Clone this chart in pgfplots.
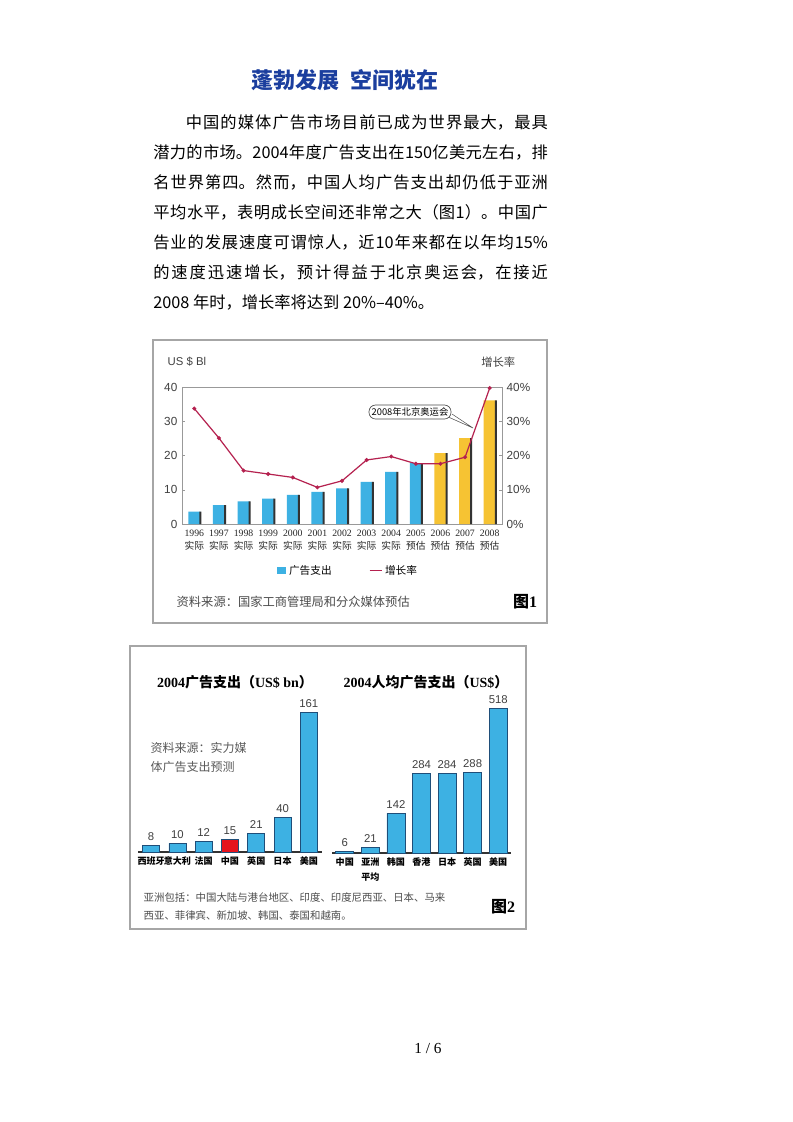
\documentclass[border=0pt]{standalone}
\usepackage{fontspec}
\setmainfont{Noto Sans CJK SC}
\newfontfamily\serif{Liberation Serif}
\newfontfamily\sans{Liberation Sans}
\usepackage{pgfplots}
\pgfplotsset{compat=1.18}
\definecolor{barblue}{HTML}{3DB1E3}
\definecolor{baryellow}{HTML}{F6C333}
\definecolor{linered}{HTML}{B5214F}
\definecolor{titleblue}{HTML}{1B3E9E}
\definecolor{redbar}{HTML}{E5131D}
\definecolor{edge}{HTML}{1F4E79}
\newcommand{\fs}[1]{\fontsize{#1}{#1}\selectfont}
\newcommand{\yl}[2]{{\serif #1}\\#2}
\begin{document}
\begin{tikzpicture}[x=0.75pt,y=-0.75pt]
\path[use as bounding box,fill=white] (0,0) rectangle (793,1122);

% heading and text
\node[text=titleblue,font=\bfseries\fs{16.5}] at (345,80) {蓬勃发展\hspace{0.5em}空间犹在};
\node[anchor=north west,inner sep=0pt,text width=296pt,align=justify,text=black,
      font=\fontsize{12.2}{22.5}\selectfont] at (153,114)
{\XeTeXlinebreaklocale "zh"\XeTeXlinebreakskip=0pt plus 3pt
\hspace*{2em}中国的媒体广告市场目前已成为世界最大，最具\linebreak
潜力的市场。2004年度广告支出在150亿美元左右，排\linebreak
名世界第四。然而，中国人均广告支出却仍低于亚洲\linebreak
平均水平，表明成长空间还非常之大（图1）。中国广\linebreak
告业的发展速度可谓惊人，近10年来都在以年均15\%\linebreak
的速度迅速增长，预计得益于北京奥运会，在接近\linebreak
2008 年时，增长率将达到 20\%–40\%。};

% figure 1
\draw[gray!70,line width=1.2pt] (153,340) rectangle (547,623);
\node[anchor=west,font=\sans\fs{8.5},text=black!75] at (163,362) {US \$ Bl};
\node[anchor=east,font=\fs{8.5},text=black!75] at (520,362) {增长率};

\begin{axis}[
  at={(136.5pt,-393pt)}, anchor=south west,
  scale only axis, width=240pt, height=102.75pt,
  xmin=-0.5, xmax=12.5, ymin=0, ymax=40,
  ytick={0,10,...,40}, ytick pos=left,
  xtick={0,...,12},
  xticklabels={\yl{1996}{实际},\yl{1997}{实际},\yl{1998}{实际},\yl{1999}{实际},
    \yl{2000}{实际},\yl{2001}{实际},\yl{2002}{实际},\yl{2003}{实际},\yl{2004}{实际},
    \yl{2005}{预估},\yl{2006}{预估},\yl{2007}{预估},\yl{2008}{预估}},
  x tick label style={font=\fontsize{7.3}{9.8}\selectfont,align=center,text=black!85,
    inner sep=1pt,yshift=-3pt},
  xtick style={draw=none},
  y tick label style={font=\sans\fs{8.8},text=black!75},
  /pgf/number format/assume math mode=true,
  axis line style={gray!80,line width=0.6pt},
  major tick length=2.5pt, ytick style={gray!80},
  legend style={at={(0.52,-0.34)},anchor=center,draw=none,fill=none,
    legend columns=2,font=\fs{8},
    /tikz/every even column/.append style={column sep=26pt}},
]
\addplot[ybar,bar width=9pt,bar shift=0pt,fill=barblue,draw=none,
  legend image code/.code={\fill[barblue] (0pt,-2.5pt) rectangle (7pt,2.5pt);}]
  coordinates {(0,3.6) (1,5.5) (2,6.6) (3,7.4) (4,8.5) (5,9.4) (6,10.4) (7,12.3) (8,15.2) (9,17.8)};
\addlegendentry{广告支出}
\addplot[ybar,bar width=9pt,bar shift=0pt,fill=baryellow,draw=none,forget plot]
  coordinates {(10,20.7) (11,25.1) (12,36.1)};
\addplot[ybar,bar width=1.5pt,bar shift=4.6pt,fill=black!80,draw=none,forget plot]
  coordinates {(0,3.6) (1,5.5) (2,6.6) (3,7.4) (4,8.5) (5,9.4) (6,10.4) (7,12.3) (8,15.2) (9,17.8) (10,20.7) (11,25.1) (12,36.1)};
\addlegendimage{color=linered,line width=0.9pt,
  legend image code/.code={\draw[linered,line width=1pt] (0pt,0pt) -- (9pt,0pt);}}
\addlegendentry{增长率}
\end{axis}

\begin{axis}[
  at={(136.5pt,-393pt)}, anchor=south west,
  scale only axis, width=240pt, height=102.75pt,
  xmin=-0.5, xmax=12.5, ymin=0, ymax=40,
  axis y line*=right, axis x line=none,
  ytick={0,10,...,40},
  yticklabel={\pgfmathprintnumber{\tick}\%},
  y tick label style={font=\sans\fs{8.8},text=black!75},
  /pgf/number format/assume math mode=true,
  axis line style={gray!80,line width=0.6pt},
  major tick length=2.5pt, ytick style={gray!80},
]
\addplot[color=linered,line width=0.9pt,mark=*,mark size=1pt]
  coordinates {(0,33.7) (1,25.1) (2,15.6) (3,14.6) (4,13.6) (5,10.7) (6,12.6)
    (7,18.7) (8,19.7) (9,17.6) (10,17.6) (11,19.5) (12,39.7)};
\end{axis}

\draw[black!70,line width=0.4pt,fill=white] (446,416) -- (473,428) -- (452,414);
\node[draw=black!70,rounded corners=5pt,fill=white,inner sep=2pt,font=\fs{7},line width=0.5pt]
  at (410,412) {2008年北京奥运会};

\node[anchor=west,font=\fs{9.2},text=black!70] at (172,602) {资料来源：国家工商管理局和分众媒体预估};
\node[font=\bfseries\fs{12}] at (525,602) {图{\serif\bfseries 1}};

% figure 2
\draw[gray!70,line width=1.2pt] (130,646) rectangle (526,929);
\node[font=\bfseries\fs{10.5}] at (235,682) {{\serif\bfseries 2004}广告支出（{\serif\bfseries US\$ bn}）};
\node[font=\bfseries\fs{10.5}] at (426,682) {{\serif\bfseries 2004}人均广告支出（{\serif\bfseries US\$}）};
\node[anchor=west,font=\fs{9},text=black!65] at (146,748) {资料来源：实力媒};
\node[anchor=west,font=\fs{9},text=black!65] at (146,767) {体广告支出预测};

\begin{axis}[
  at={(103.5pt,-639pt)}, anchor=south west,
  scale only axis, width=138pt, height=112.5pt,
  xmin=-0.5, xmax=6.5, ymin=0, ymax=172.5,
  axis y line=none, axis x line*=bottom,
  x axis line style={-,black!80,line width=0.8pt},
  xtick={0,...,6},
  xticklabels={西班牙,意大利,法国,中国,英国,日本,美国},
  xtick style={draw=none},
  x tick label style={font=\bfseries\fs{6.8}},
  nodes near coords,
  nodes near coords style={font=\sans\fs{8.5},text=black!75},
  /pgf/number format/assume math mode=true,
]
\addplot[ybar,bar width=12.75pt,bar shift=0pt,fill=barblue,draw=edge,line width=0.6pt]
  coordinates {(0,8) (1,10) (2,12) (4,21) (5,40) (6,161)};
\addplot[ybar,bar width=12.75pt,bar shift=0pt,fill=redbar,draw=edge,line width=0.6pt]
  coordinates {(3,15)};
\end{axis}

\begin{axis}[
  at={(249pt,-639.75pt)}, anchor=south west,
  scale only axis, width=134.25pt, height=112.5pt,
  xmin=-0.5, xmax=6.5, ymin=0, ymax=536,
  axis y line=none, axis x line*=bottom,
  x axis line style={-,black!80,line width=0.8pt},
  xtick={0,...,6},
  xticklabels={中国,{亚洲\\平均},韩国,香港,日本,英国,美国},
  xtick style={draw=none},
  x tick label style={font=\bfseries\fontsize{6.8}{11}\selectfont,align=center,anchor=north},
  nodes near coords,
  nodes near coords style={font=\sans\fs{8.5},text=black!75},
  /pgf/number format/assume math mode=true,
]
\addplot[ybar,bar width=13.5pt,bar shift=0pt,fill=barblue,draw=edge,line width=0.6pt]
  coordinates {(0,6) (1,21) (2,142) (3,284) (4,284) (5,288) (6,518)};
\end{axis}

\node[anchor=west,font=\fs{7.8},text=black!70] at (139,898) {亚洲包括：中国大陆与港台地区、印度、印度尼西亚、日本、马来};
\node[anchor=west,font=\fs{7.8},text=black!70] at (139,916) {西亚、菲律宾、新加坡、韩国、泰国和越南。};
\node[font=\bfseries\fs{12}] at (503,907) {图{\serif\bfseries 2}};

\node[font=\serif\fs{11.5}] at (428,1048) {1 / 6};
\end{tikzpicture}
\end{document}
